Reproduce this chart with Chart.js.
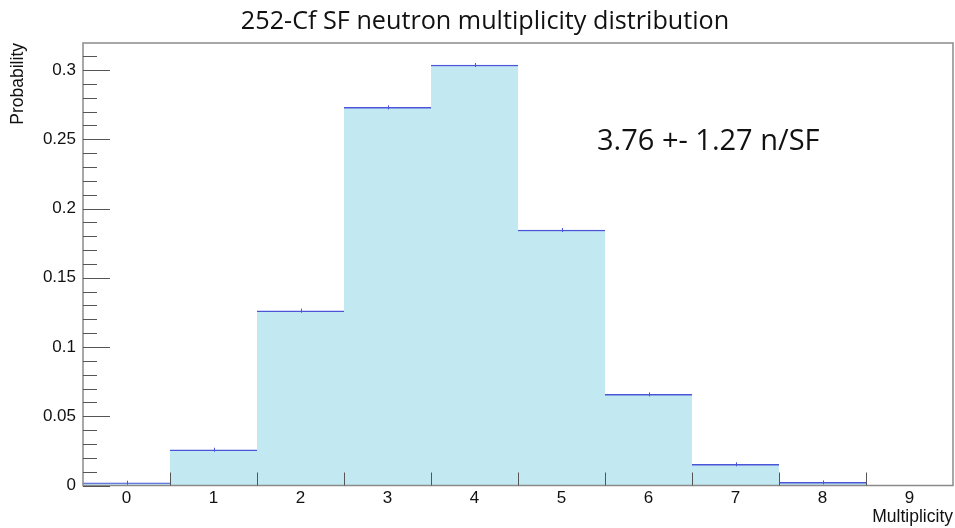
<!DOCTYPE html>
<html>
<head>
<meta charset="utf-8">
<script src="https://cdn.jsdelivr.net/npm/chart.js@4/dist/chart.umd.min.js"></script>
<style>
  html, body { margin: 0; padding: 0; background: #fff; }
  #wrap { width: 955px; height: 528px; }
</style>
</head>
<body>
<div id="wrap"><canvas id="multChart" width="955" height="528"></canvas></div>
<script>
// 252-Cf spontaneous fission neutron multiplicity
const multiplicity = ['0', '1', '2', '3', '4', '5', '6', '7', '8', '9'];
const probability = [0.0020, 0.0258, 0.1262, 0.2730, 0.3036, 0.1845, 0.0658, 0.0153, 0.0022, 0];
const yTicks = [0, 0.05, 0.1, 0.15, 0.2, 0.25, 0.3];
const yMax = 0.3195;
const titleText = '252-Cf SF neutron multiplicity distribution';
const summaryText = '3.76 +- 1.27 n/SF';

const fillColor = '#c2e9f1';
const lineColor = '#4a55d8';
const axisColor = '#8a8a8a';
const tickColor = '#555';
const labelFont = '"Liberation Sans", Arial, sans-serif';

// ROOT-like frame: inward ticks, bin-edge ticks on x, error stubs, title and annotation
const rootFrame = {
    id: 'rootFrame',
    afterDatasetsDraw(chart) {
        const { ctx, chartArea: a, scales: { x, y } } = chart;
        ctx.save();

        // frame
        ctx.strokeStyle = axisColor;
        ctx.lineWidth = 1.5;
        ctx.strokeRect(a.left, a.top, a.right - a.left, a.bottom - a.top);

        // y ticks: major every 0.05, minor every 0.01
        ctx.lineWidth = 1;
        for (let i = 0; i * 0.01 <= yMax + 1e-9; i++) {
            const py = Math.round(y.getPixelForValue(i * 0.01)) + 0.5;
            const len = i % 5 === 0 ? 27 : 14;
            ctx.strokeStyle = tickColor;
            ctx.beginPath();
            ctx.moveTo(a.left, py);
            ctx.lineTo(a.left + len, py);
            ctx.stroke();
        }

        // x ticks at bin edges
        const meta = chart.getDatasetMeta(0);
        meta.data.forEach((bar, i) => {
            if (i === 0) return;
            const px = Math.round(bar.x - bar.width / 2) + 0.5;
            ctx.strokeStyle = tickColor;
            ctx.beginPath();
            ctx.moveTo(px, a.bottom);
            ctx.lineTo(px, a.bottom - 13);
            ctx.stroke();
        });

        // small statistical error stub at bin centre
        ctx.strokeStyle = lineColor;
        meta.data.forEach((bar, i) => {
            if (!probability[i]) return;
            const px = Math.round(bar.x) + 0.5;
            ctx.beginPath();
            ctx.moveTo(px, bar.y - 2);
            ctx.lineTo(px, bar.y + 2);
            ctx.stroke();
        });

        ctx.fillStyle = '#111';
        ctx.textBaseline = 'middle';

        // title, centred a little right of the canvas middle
        ctx.font = '25.2px "Open Sans", sans-serif';
        ctx.textAlign = 'center';
        ctx.fillText(titleText, 485, 22);

        // summary annotation
        ctx.font = '29px "Open Sans", sans-serif';
        ctx.textAlign = 'left';
        ctx.fillText(summaryText, 597, 142);

        ctx.restore();
    }
};

new Chart(document.getElementById('multChart'), {
    type: 'bar',
    data: {
        labels: multiplicity,
        datasets: [{
            data: probability,
            backgroundColor: fillColor,
            borderColor: lineColor,
            borderWidth: { top: 1.5, left: 0, right: 0, bottom: 0 },
            borderSkipped: false,
            barPercentage: 1,
            categoryPercentage: 1
        }]
    },
    options: {
        responsive: false,
        animation: false,
        layout: { padding: { left: 0, right: 2, top: 43, bottom: 0 } },
        plugins: {
            legend: { display: false },
            tooltip: { enabled: false },
            title: { display: false }
        },
        scales: {
            x: {
                offset: true,
                grid: { display: false, drawTicks: false },
                border: { display: false },
                ticks: { color: '#111', font: { family: labelFont, size: 17 }, padding: 3, maxRotation: 0 },
                title: {
                    display: true, text: 'Multiplicity', align: 'end', color: '#111',
                    font: { family: labelFont, size: 17.5 }, padding: 0
                },
                afterFit: s => { s.height = 42.5; }
            },
            y: {
                min: 0,
                max: yMax,
                afterBuildTicks: s => { s.ticks = yTicks.map(v => ({ value: v })); },
                grid: { display: false, drawTicks: false },
                border: { display: false },
                ticks: {
                    color: '#111', font: { family: labelFont, size: 17 }, padding: 7,
                    callback: v => String(+v.toFixed(2))
                },
                title: {
                    display: true, text: 'Probability', align: 'end', color: '#111',
                    font: { family: labelFont, size: 17.5 }, padding: { top: 8, bottom: 0 }
                },
                afterFit: s => { s.width = 83; }
            }
        }
    },
    plugins: [rootFrame]
});
</script>
</body>
</html>
